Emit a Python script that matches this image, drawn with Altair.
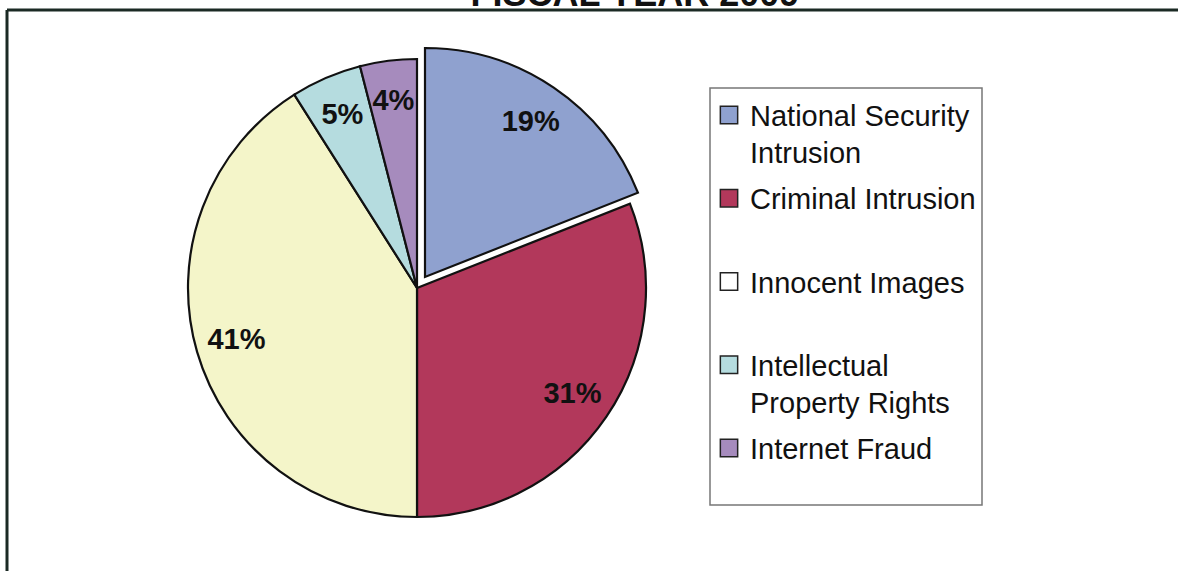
import altair as alt
import pandas as pd

# ---- data ----
categories = ["National Security Intrusion", "Criminal Intrusion", "Innocent Images",
              "Intellectual Property Rights", "Internet Fraud"]
values = [19, 31, 41, 5, 4]
labels = ["19%", "31%", "41%", "5%", "4%"]
exploded = [True, False, False, False, False]
slice_colors = ["#8fa1cf", "#b2385b", "#f4f5c9", "#b5dcdf", "#a68bbd"]
legend_text = ["National Security\nIntrusion", "Criminal Intrusion", "Innocent Images",
               "Intellectual\nProperty Rights", "Internet Fraud"]
legend_swatch = ["#8fa1cf", "#b2385b", "#ffffff", "#b5dcdf", "#a68bbd"]
title_text = "FISCAL YEAR 2009"

df = pd.DataFrame({
    "category": categories, "value": values, "label": labels,
    "exploded": exploded, "order": list(range(len(categories))),
})
leg = pd.DataFrame({"category": categories, "text": legend_text, "swatch": legend_swatch})

W, H = 1178, 571
CX, CY, R = 417, 288, 229
EX, EY = 425, 277
LR = 188
FONT = "Liberation Sans"

base = alt.Chart(df).transform_window(
    end="sum(value)", sort=[alt.SortField("order")], frame=[None, 0]
).transform_calculate(
    start="datum.end - datum.value", mid="datum.end - datum.value/2"
)

theta_scale = alt.Scale(domain=[0, 100])
color = alt.Color("category:N", scale=alt.Scale(domain=categories, range=slice_colors), legend=None)

def arcs(expl, cx, cy):
    return base.transform_filter(
        f"datum.exploded == {'true' if expl else 'false'}"
    ).mark_arc(outerRadius=R, stroke="#111", strokeWidth=2.2).encode(
        theta=alt.Theta("start:Q", scale=theta_scale),
        theta2="end:Q",
        color=color,
        x=alt.value(cx), y=alt.value(cy),
    )

def texts(expl, cx, cy):
    return base.transform_filter(
        f"datum.exploded == {'true' if expl else 'false'}"
    ).mark_text(radius=LR, font=FONT, fontSize=29, fontWeight="bold", color="#111",
                align="center", baseline="middle").encode(
        theta=alt.Theta("mid:Q", scale=theta_scale),
        text="label:N",
        x=alt.value(cx), y=alt.value(cy),
    )

pie = alt.layer(arcs(False, CX, CY), arcs(True, EX, EY),
                texts(False, CX, CY), texts(True, EX, EY)).resolve_scale(theta="independent")

# frame lines
frame_top = alt.Chart(pd.DataFrame({"a": [0]})).mark_rule(color="#1b2a24", strokeWidth=3).encode(
    x=alt.value(7), x2=alt.value(W), y=alt.value(10))
frame_left = alt.Chart(pd.DataFrame({"a": [0]})).mark_rule(color="#1b2a24", strokeWidth=3).encode(
    x=alt.value(7), y=alt.value(10), y2=alt.value(H))

title = alt.Chart(pd.DataFrame({"t": [title_text]})).mark_text(
    font=FONT, fontSize=36, fontWeight="bold", color="#111", align="center", baseline="alphabetic"
).encode(text="t:N", x=alt.value(635), y=alt.value(6))

# legend
legbox = alt.Chart(pd.DataFrame({"a": [0]})).mark_rect(
    fill="white", stroke="#777", strokeWidth=1.5).encode(
    x=alt.value(710), x2=alt.value(982), y=alt.value(88), y2=alt.value(505))

ypos = alt.Y("category:N", scale=alt.Scale(domain=categories, range=[115, 448], padding=0), axis=None)
swatches = alt.Chart(leg).mark_square(size=300, stroke="#222", strokeWidth=1.5, opacity=1).encode(
    x=alt.value(729), y=ypos,
    fill=alt.Fill("swatch:N", scale=None),
)
legtext = alt.Chart(leg).mark_text(
    font=FONT, fontSize=29, color="#111", align="left", baseline="top",
    lineBreak="\n", lineHeight=37, dy=-12
).encode(x=alt.value(750), y=ypos, text="text:N")

chart = alt.layer(frame_top, frame_left, title, pie, legbox, swatches, legtext).properties(
    width=W, height=H, padding=0, autosize="none", background="white"
).configure_view(stroke=None)

chart.save("out.html", embed_options={"renderer": "svg", "actions": False})
